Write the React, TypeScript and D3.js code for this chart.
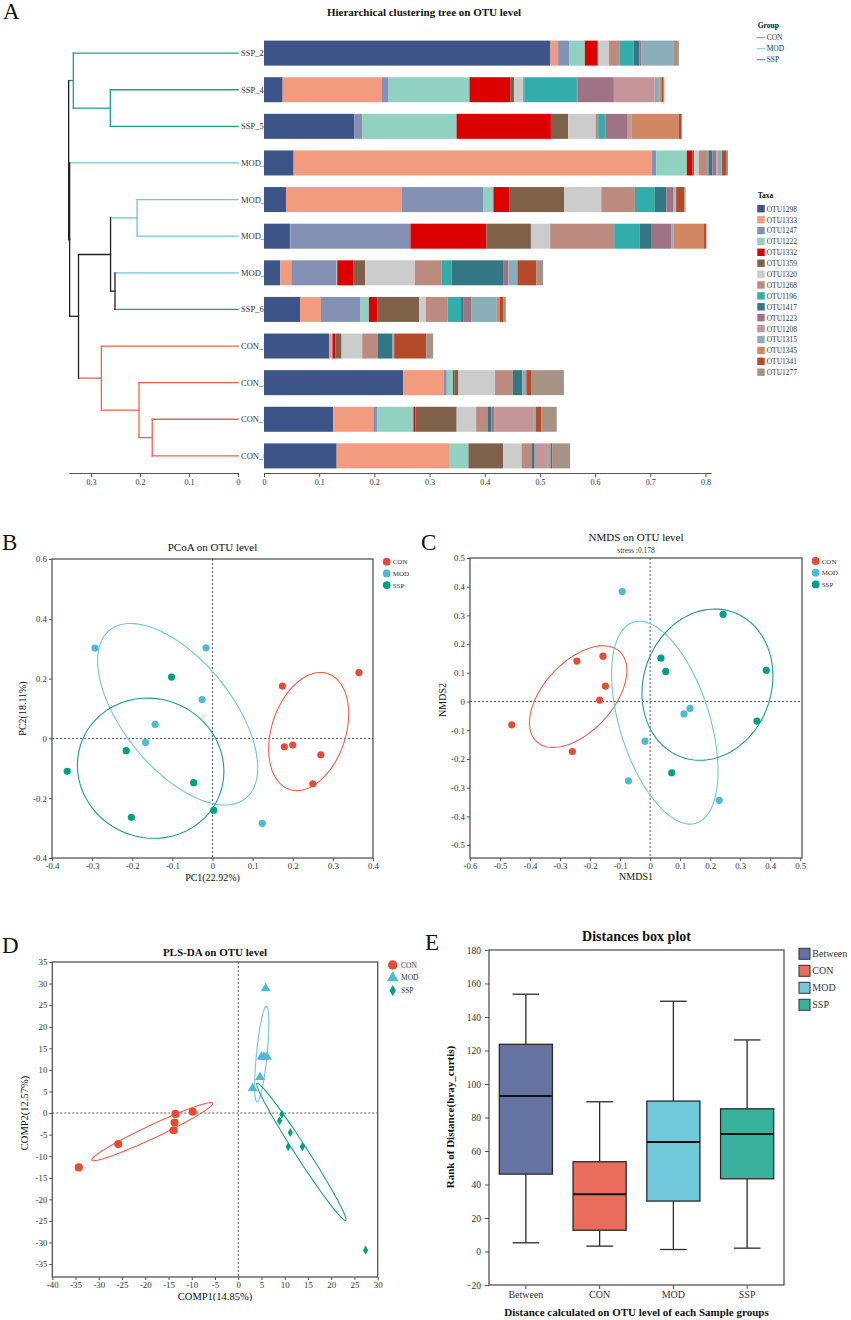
import { useEffect, useRef } from 'react';
import * as d3 from 'd3';

const FONT = '"Liberation Serif", "Times New Roman", Times, serif';
const INK = '#333';
const FRAME = '#555';

// groups shared by every panel
const groups = ['CON', 'MOD', 'SSP'];
const pointColors = ['#e64b35', '#4dbbd5', '#00a087'];
const lineColors = ['#f2604c', '#6fc6dc', '#1f9f83'];

// ---------- A: clustering tree + relative abundance ----------
const taxa = ['OTU1298', 'OTU1333', 'OTU1247', 'OTU1222', 'OTU1332', 'OTU1359', 'OTU1320', 'OTU1268',
  'OTU1196', 'OTU1417', 'OTU1223', 'OTU1208', 'OTU1315', 'OTU1345', 'OTU1341', 'OTU1277'];
const taxaColors = ['#3c5488', '#f39b7f', '#8491b4', '#91d1c2', '#dc0000', '#7e6148', '#cccccc', '#bc8a7e',
  '#33adab', '#347683', '#9f7384', '#c49599', '#8aaeb9', '#d08762', '#b34b2a', '#a79384'];

const samples = ['SSP_2', 'SSP_4', 'SSP_5', 'MOD_1', 'MOD_2', 'MOD_3', 'MOD_4', 'SSP_6', 'CON_5', 'CON_2', 'CON_4', 'CON_6'];
const sampleGroups = ['SSP', 'SSP', 'SSP', 'MOD', 'MOD', 'MOD', 'MOD', 'SSP', 'CON', 'CON', 'CON', 'CON'];

const SSP_2 = [0.519, 0.014, 0.0205, 0.0278, 0.0223, 0.002, 0.0193, 0.0199, 0.0253, 0.0103, 0.0036, 0.001, 0.0567, 0.001, 0.0015, 0.0075];
const SSP_4 = [0.0338, 0.18, 0.012, 0.1466, 0.0736, 0.0072, 0.0163, 0.002, 0.0953, 0.0012, 0.066, 0.074, 0.0084, 0.0048, 0.003, 0.0012];
const SSP_5 = [0.164, 0, 0.0139, 0.171, 0.171, 0.0314, 0.0495, 0.0048, 0.012, 0.0012, 0.039, 0.0072, 0.0006, 0.0857, 0.0054, 0];
const MOD_1 = [0.0537, 0.6486, 0.0084, 0.0555, 0.0097, 0.0036, 0.0084, 0.0163, 0.0012, 0.0072, 0.0072, 0.002, 0.0072, 0.001, 0.0072, 0.0036];
const MOD_2 = [0.0398, 0.2094, 0.1478, 0.0187, 0.0284, 0.0995, 0.0676, 0.0609, 0.0362, 0.0211, 0.0121, 0.002, 0.0024, 0.001, 0.0145, 0.0024];
const MOD_3 = [0.047, 0.0005, 0.2178, 0, 0.1376, 0.0808, 0.035, 0.1158, 0.0465, 0.0217, 0.0356, 0, 0.0036, 0.0555, 0.0042, 0];
const MOD_4 = [0.0296, 0.0199, 0.082, 0.0012, 0.029, 0.0217, 0.0899, 0.0489, 0.0181, 0.0929, 0.0097, 0, 0.0163, 0, 0.0344, 0.0121];
const SSP_6 = [0.0652, 0.038, 0.0718, 0.0151, 0.0157, 0.0754, 0.0121, 0.0392, 0.0247, 0.0036, 0.0145, 0, 0.0465, 0.0054, 0.006, 0.005];
const CON_5 = [0.1183, 0.0042, 0.0018, 0, 0.0048, 0.0115, 0.0374, 0.0284, 0, 0.0265, 0, 0, 0.003, 0, 0.0579, 0.0127];
const CON_2 = [0.2522, 0.073, 0.006, 0.0115, 0.0024, 0.0072, 0.0664, 0.032, 0, 0.0175, 0, 0, 0.0072, 0, 0.0084, 0.0597];
const CON_4 = [0.1254, 0.0727, 0.0069, 0.0658, 0.0035, 0.0748, 0.0353, 0.0215, 0, 0.0062, 0.0055, 0.07, 0.0048, 0, 0.0104, 0.0277];
const CON_6 = [0.1316, 0.2036, 0, 0.0353, 0, 0.063, 0.0332, 0.018, 0, 0.0055, 0.0007, 0.0236, 0.0048, 0, 0.0035, 0.0319];
const abundance = [SSP_2, SSP_4, SSP_5, MOD_1, MOD_2, MOD_3, MOD_4, SSP_6, CON_5, CON_2, CON_4, CON_6];

// hclust-like merges: m1..m11
const mergeLeft = ['SSP_4', 'SSP_2', 'MOD_2', 'MOD_4', 'm3', 'CON_4', 'CON_2', 'CON_5', 'm5', 'MOD_1', 'm2'];
const mergeRight = ['SSP_5', 'm1', 'MOD_3', 'SSP_6', 'm4', 'CON_6', 'm6', 'm7', 'm8', 'm9', 'm10'];
const mergeHeight = [0.2605, 0.336, 0.206, 0.251, 0.26, 0.175, 0.202, 0.2787, 0.3254, 0.3435, 0.3455];

// ---------- B: PCoA ----------
const pointGroup = ['CON', 'CON', 'CON', 'CON', 'CON', 'CON', 'MOD', 'MOD', 'MOD', 'MOD', 'MOD', 'MOD', 'SSP', 'SSP', 'SSP', 'SSP', 'SSP', 'SSP'];
const pcoaX = [0.174, 0.365, 0.179, 0.2, 0.27, 0.25, -0.293, -0.016, -0.026, -0.143, -0.167, 0.124, -0.102, -0.215, -0.362, -0.047, -0.202, 0.003];
const pcoaY = [0.175, 0.22, -0.028, -0.022, -0.055, -0.152, 0.302, 0.303, 0.13, 0.047, -0.013, -0.284, 0.205, -0.041, -0.11, -0.148, -0.264, -0.24];

// ---------- C: NMDS ----------
const nmdsX = [-0.244, -0.157, -0.149, -0.168, -0.461, -0.259, -0.093, 0.133, 0.113, -0.017, -0.072, 0.23, 0.243, 0.036, 0.052, 0.387, 0.356, 0.072];
const nmdsY = [0.141, 0.158, 0.054, 0.005, -0.081, -0.174, 0.383, -0.024, -0.043, -0.138, -0.276, -0.344, 0.304, 0.151, 0.105, 0.109, -0.068, -0.248];

// ---------- D: PLS-DA ----------
const plsX = [-34.3, -25.8, -13.5, -9.8, -13.7, -13.9, 5.9, 5.0, 6.2, 4.7, 3.1, 5.5, 9.4, 8.9, 11.2, 10.75, 13.8, 27.4];
const plsY = [-12.6, -7.2, -0.2, 0.3, -2.2, -4.0, 28.9, 13.0, 13.0, 8.3, 5.7, 13.0, -0.3, -1.8, -4.5, -7.8, -7.8, -31.8];

// ---------- E: distance box plot ----------
const boxGroups = ['Between', 'CON', 'MOD', 'SSP'];
const boxColors = ['#64739f', '#ea6c5c', '#72c8db', '#38b29b'];
const boxLow = [5.2, 3.2, 1.2, 2.0];
const boxQ1 = [46.2, 12.7, 30.1, 43.4];
const boxMedian = [92.8, 34.2, 65.3, 70.1];
const boxQ3 = [123.7, 53.6, 89.8, 85.2];
const boxHigh = [153.6, 89.4, 149.4, 126.3];

const ELLIPSE_K = 1.375;

const num = (d: any) => `${+(+d).toFixed(2)}`;

function Axis({ scale, orient, x = 0, y = 0, tickValues, fontSize = 9, tickSize = 3, padding = 2, showDomain = false, fmt }: any) {
    const ref = useRef<SVGGElement>(null);
    useEffect(() => {
        if (!ref.current) return;
        const axis = (orient === 'bottom' ? d3.axisBottom(scale) : d3.axisLeft(scale))
            .tickSizeOuter(0)
            .tickSizeInner(tickSize)
            .tickPadding(padding);
        if (tickValues) axis.tickValues(tickValues);
        if (fmt) axis.tickFormat(fmt);
        const g = d3.select(ref.current);
        g.selectAll('*').remove();
        g.call(axis as any);
        g.attr('font-family', FONT).attr('font-size', fontSize);
        g.selectAll('.tick line').attr('stroke', FRAME);
        g.selectAll('.tick text').attr('fill', INK);
        g.select('.domain').attr('stroke', FRAME).style('display', showDomain ? null : 'none');
    });
    return <g ref={ref} transform={`translate(${x},${y})`} />;
}

function ellipsePoints(xs: number[], ys: number[], k: number): [number, number][] {
    const n = xs.length;
    const mx = d3.mean(xs)!;
    const my = d3.mean(ys)!;
    let sxx = 0, syy = 0, sxy = 0;
    xs.forEach((v, i) => {
        const dx = v - mx, dy = ys[i] - my;
        sxx += dx * dx; syy += dy * dy; sxy += dx * dy;
    });
    sxx /= n - 1; syy /= n - 1; sxy /= n - 1;
    // cholesky factor of the covariance
    const a = Math.sqrt(sxx);
    const b = sxy / a;
    const c = Math.sqrt(Math.max(syy - b * b, 0));
    return d3.range(0, 361, 3).map(deg => {
        const t = (deg * Math.PI) / 180;
        return [mx + k * a * Math.cos(t), my + k * (b * Math.cos(t) + c * Math.sin(t))];
    });
}

function PanelA() {
    const band = d3.scaleBand<string>().domain(samples).range([29, 480]).paddingInner(0.317).paddingOuter(0.317);
    const barX = d3.scaleLinear().domain([0, 0.81]).range([264, 711]);
    const treeX = d3.scaleLinear().domain([0.345, 0]).range([68.9, 238]);
    const axisY = 473;

    const rows = samples.map((s, i) => {
        const o: any = { sample: s };
        taxa.forEach((t, j) => { o[t] = abundance[i][j]; });
        return o;
    });
    const series = d3.stack<any>().keys(taxa)(rows);

    // dendrogram segments
    const colorOf = (s: Set<string>) => (s.size === 1 ? lineColors[groups.indexOf([...s][0])] : '#222');
    const nodes = new Map<string, { y: number; h: number; g: Set<string> }>();
    samples.forEach((s, i) => nodes.set(s, { y: band(s)! + band.bandwidth() / 2, h: 0, g: new Set([sampleGroups[i]]) }));
    const segs: { x1: number; x2: number; y1: number; y2: number; c: string }[] = [];
    mergeLeft.forEach((l, i) => {
        const a = nodes.get(l)!;
        const b = nodes.get(mergeRight[i])!;
        const h = mergeHeight[i];
        const g = new Set([...a.g, ...b.g]);
        segs.push({ x1: treeX(h), x2: treeX(a.h), y1: a.y, y2: a.y, c: colorOf(a.g) });
        segs.push({ x1: treeX(h), x2: treeX(b.h), y1: b.y, y2: b.y, c: colorOf(b.g) });
        segs.push({ x1: treeX(h), x2: treeX(h), y1: a.y, y2: b.y, c: colorOf(g) });
        nodes.set(`m${i + 1}`, { y: (a.y + b.y) / 2, h, g });
    });

    return (
        <g>
            <text x={3} y={19} fontSize={23} fontFamily={FONT} fill="#111">A</text>
            <text x={424} y={15.5} fontSize={11} fontWeight="bold" fontFamily={FONT} textAnchor="middle" fill="#111">
                Hierarchical clustering tree on OTU level
            </text>

            {segs.map((s, i) => (
                <line key={i} x1={s.x1} x2={s.x2} y1={s.y1} y2={s.y2} stroke={s.c} strokeWidth={1.3} strokeLinecap="square" />
            ))}

            {samples.map(s => (
                <text key={s} x={241} y={band(s)! + band.bandwidth() / 2 + 3} fontSize={8.5} fontFamily={FONT} fill={INK}>{s}</text>
            ))}

            {series.map((ser, j) => (
                <g key={taxa[j]} fill={taxaColors[j]}>
                    {ser.map(d => (
                        <rect key={d.data.sample} x={barX(d[0])} y={band(d.data.sample)} width={Math.max(0, barX(d[1]) - barX(d[0]))} height={band.bandwidth()} />
                    ))}
                </g>
            ))}

            <Axis scale={barX} orient="bottom" y={axisY} tickValues={d3.range(0, 0.81, 0.1)} fmt={num} fontSize={8} tickSize={4} showDomain />
            <Axis scale={treeX} orient="bottom" y={axisY} tickValues={[0.3, 0.2, 0.1, 0]} fmt={num} fontSize={8} tickSize={4} showDomain />

            {/* group legend */}
            <text x={757.7} y={28.3} fontSize={7.5} fontWeight="bold" fontFamily={FONT} fill="#111">Group</text>
            {groups.map((g, i) => (
                <g key={g}>
                    <line x1={756.7} x2={765} y1={37.7 + i * 11} y2={37.7 + i * 11} stroke={lineColors[i]} strokeWidth={1} />
                    <text x={766.7} y={40.3 + i * 11} fontSize={7.5} fontFamily={FONT} fill={INK}>{g}</text>
                </g>
            ))}

            {/* taxa legend */}
            <text x={757.7} y={198.3} fontSize={7.5} fontWeight="bold" fontFamily={FONT} fill="#111">Taxa</text>
            {taxa.map((t, i) => (
                <g key={t}>
                    <rect x={757.3} y={205 + i * 10.9} width={7.4} height={7.4} fill={taxaColors[i]} />
                    <text x={766.7} y={211.6 + i * 10.9} fontSize={7.5} fontFamily={FONT} fill={INK}>{t}</text>
                </g>
            ))}
        </g>
    );
}

function Ordination(p: any) {
    const x = d3.scaleLinear().domain(p.xDomain).range([p.x0, p.x1]);
    const y = d3.scaleLinear().domain(p.yDomain).range([p.y1, p.y0]);
    const line = d3.line<[number, number]>().x(d => x(d[0])).y(d => y(d[1]));
    const symbolTypes = [d3.symbolCircle, d3.symbolTriangle, d3.symbolDiamond];
    const symbolSizes = p.symbolSizes;
    const midX = (p.x0 + p.x1) / 2;
    const midY = p.yLabelMid ?? (p.y0 + p.y1) / 2;

    const marker = (gi: number, cx: number, cy: number, big: boolean) => {
        if (!p.symbols) return <circle cx={cx} cy={cy} r={big ? p.legendR : p.pointR} fill={pointColors[gi]} />;
        const size = big ? p.legendSizes[gi] : symbolSizes[gi];
        return <path d={d3.symbol().type(symbolTypes[gi]).size(size)()!} transform={`translate(${cx},${cy})`} fill={pointColors[gi]} />;
    };

    return (
        <g>
            <text x={p.letterX} y={p.letterY} fontSize={23} fontFamily={FONT} fill="#111">{p.letter}</text>
            <text x={midX} y={p.titleY} fontSize={11} fontWeight={p.titleBold ? 'bold' : 'normal'} fontFamily={FONT} textAnchor="middle" fill="#111">{p.title}</text>
            {p.subtitle && (
                <text x={midX} y={p.titleY + 11.5} fontSize={7.5} fontFamily={FONT} textAnchor="middle" fill={INK}>{p.subtitle}</text>
            )}

            {/* zero reference lines */}
            <line x1={x(0)} x2={x(0)} y1={p.y0} y2={p.y1} stroke={FRAME} strokeWidth={1} strokeDasharray="2,2" />
            <line x1={p.x0} x2={p.x1} y1={y(0)} y2={y(0)} stroke={FRAME} strokeWidth={1} strokeDasharray="2,2" />

            {groups.map((g, gi) => {
                const idx = pointGroup.map((pg, i) => (pg === g ? i : -1)).filter(i => i >= 0);
                const pts = ellipsePoints(idx.map(i => p.xs[i]), idx.map(i => p.ys[i]), ELLIPSE_K);
                return <path key={g} d={line(pts)!} fill="none" stroke={lineColors[gi]} strokeWidth={1.1} />;
            })}

            {p.xs.map((v: number, i: number) => (
                <g key={i}>{marker(groups.indexOf(pointGroup[i]), x(v), y(p.ys[i]), false)}</g>
            ))}

            <rect x={p.x0} y={p.y0} width={p.x1 - p.x0} height={p.y1 - p.y0} fill="none" stroke={FRAME} strokeWidth={1.3} />
            <Axis scale={x} orient="bottom" y={p.y1} tickValues={p.xTicks} fmt={num} fontSize={p.tickFont} tickSize={3} />
            <Axis scale={y} orient="left" x={p.x0} tickValues={p.yTicks} fmt={num} fontSize={p.tickFont} tickSize={3} />

            <g clipPath={p.clip ? `url(#${p.clip})` : undefined}>
                <text x={midX} y={p.xLabelY} fontSize={p.labelFont} fontFamily={FONT} textAnchor="middle" fill="#111">{p.xLabel}</text>
            </g>
            <text transform={`translate(${p.yLabelX},${midY}) rotate(-90)`} fontSize={p.labelFont} fontFamily={FONT} textAnchor="middle" fill="#111">{p.yLabel}</text>

            {groups.map((g, gi) => (
                <g key={g}>
                    {marker(gi, p.legendX, p.legendY + gi * p.legendStep, true)}
                    <text x={p.legendX + p.legendTextDx} y={p.legendY + gi * p.legendStep + 2.6} fontSize={p.legendFont} fontFamily={FONT} fill={INK}>{g}</text>
                </g>
            ))}
        </g>
    );
}

function PanelE() {
    const x = d3.scaleBand<string>().domain(boxGroups).range([489, 784]);
    const y = d3.scaleLinear().domain([-20, 180]).range([1285, 950]);
    const bw = x.bandwidth() * 0.72;
    const capW = x.bandwidth() * 0.36;
    const cx = (g: string) => x(g)! + x.bandwidth() / 2;

    return (
        <g>
            <text x={425} y={950} fontSize={23} fontFamily={FONT} fill="#111">E</text>
            <text x={636.5} y={941} fontSize={14} fontWeight="bold" fontFamily={FONT} textAnchor="middle" fill="#111">Distances box plot</text>

            {boxGroups.map((g, i) => (
                <g key={g} stroke="#2a2a2a" strokeWidth={1.3}>
                    <line x1={cx(g)} x2={cx(g)} y1={y(boxHigh[i])} y2={y(boxQ3[i])} />
                    <line x1={cx(g)} x2={cx(g)} y1={y(boxQ1[i])} y2={y(boxLow[i])} />
                    <line x1={cx(g) - capW / 2} x2={cx(g) + capW / 2} y1={y(boxHigh[i])} y2={y(boxHigh[i])} />
                    <line x1={cx(g) - capW / 2} x2={cx(g) + capW / 2} y1={y(boxLow[i])} y2={y(boxLow[i])} />
                    <rect x={cx(g) - bw / 2} y={y(boxQ3[i])} width={bw} height={y(boxQ1[i]) - y(boxQ3[i])} fill={boxColors[i]} />
                    <line x1={cx(g) - bw / 2} x2={cx(g) + bw / 2} y1={y(boxMedian[i])} y2={y(boxMedian[i])} stroke="#111" strokeWidth={2} />
                </g>
            ))}

            <rect x={489} y={950} width={784 - 489} height={1285 - 950} fill="none" stroke={FRAME} strokeWidth={1.3} />
            <Axis scale={x} orient="bottom" y={1285} fontSize={10} tickSize={4} padding={2} />
            <Axis scale={y} orient="left" x={489} tickValues={d3.range(-20, 181, 20)} fontSize={9.5} tickSize={4} padding={4} />

            <text x={636.5} y={1315.5} fontSize={11} fontWeight="bold" fontFamily={FONT} textAnchor="middle" fill="#111">
                Distance calculated on OTU level of each Sample groups
            </text>
            <text transform="translate(454,1117) rotate(-90)" fontSize={11} fontWeight="bold" fontFamily={FONT} textAnchor="middle" fill="#111">
                Rank of Distance(bray_curtis)
            </text>

            {boxGroups.map((g, i) => (
                <g key={g}>
                    <rect x={799} y={948.3 + i * 17} width={11} height={11} fill={boxColors[i]} stroke="#333" strokeWidth={1} />
                    <text x={812.3} y={957.3 + i * 17} fontSize={10} fontFamily={FONT} fill={INK}>{g}</text>
                </g>
            ))}
        </g>
    );
}

const App = () => {
    return (
        <svg width={851} height={1320} style={{ position: 'absolute', left: 0, top: 0, background: '#fff' }}>
            <defs>
                <clipPath id="clipD">
                    <rect x={0} y={0} width={425} height={1301} />
                </clipPath>
            </defs>
            <PanelA />
            <Ordination
                letter="B" letterX={2} letterY={550}
                title="PCoA on OTU level" titleY={551}
                x0={52} x1={373} y0={559} y1={858}
                xDomain={[-0.4, 0.4]} yDomain={[-0.4, 0.6]}
                xTicks={d3.range(-0.4, 0.41, 0.1)} yTicks={d3.range(-0.4, 0.61, 0.2)}
                xs={pcoaX} ys={pcoaY} pointR={3.6} legendR={3.9}
                xLabel="PC1(22.92%)" xLabelY={880.5} yLabel="PC2(18.11%)" yLabelX={26}
                tickFont={8.8} labelFont={10}
                legendX={386.7} legendY={561.7} legendStep={11.7} legendTextDx={6} legendFont={7}
            />
            <Ordination
                letter="C" letterX={421} letterY={550}
                title="NMDS on OTU level" titleY={541} subtitle="stress :0.178"
                x0={470} x1={802} y0={558} y1={858}
                xDomain={[-0.6, 0.506]} yDomain={[-0.545, 0.5]}
                xTicks={d3.range(-0.6, 0.51, 0.1)} yTicks={d3.range(-0.5, 0.51, 0.1)}
                xs={nmdsX} ys={nmdsY} pointR={3.6} legendR={3.9}
                xLabel="NMDS1" xLabelY={880} yLabel="NMDS2" yLabelX={446} yLabelMid={700}
                tickFont={8.8} labelFont={10}
                legendX={815.7} legendY={561} legendStep={11.7} legendTextDx={6} legendFont={7}
            />
            <Ordination
                letter="D" letterX={2} letterY={953}
                title="PLS-DA on OTU level" titleY={955.5} titleBold
                x0={52.3} x1={377.7} y0={962} y1={1277}
                xDomain={[-40, 30]} yDomain={[-38, 35]}
                xTicks={d3.range(-40, 31, 5)} yTicks={d3.range(-35, 36, 5)}
                xs={plsX} ys={plsY} symbols symbolSizes={[52, 42, 24]} legendSizes={[70, 58, 36]}
                xLabel="COMP1(14.85%)" xLabelY={1300} yLabel="COMP2(12.57%)" yLabelX={28} yLabelMid={1113}
                tickFont={8.8} labelFont={10.5} clip="clipD"
                legendX={392.7} legendY={965} legendStep={12.8} legendTextDx={8.3} legendFont={7.5}
            />
            <PanelE />
        </svg>
    );
};

export default App;
